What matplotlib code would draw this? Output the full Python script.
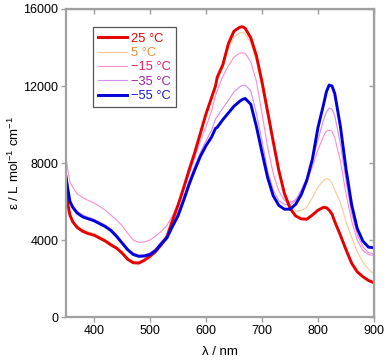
import matplotlib
matplotlib.use('Agg')
import matplotlib.pyplot as plt

plt.rcParams['font.family'] = ['Liberation Sans', 'DejaVu Sans']
plt.rcParams['mathtext.fontset'] = 'custom'
plt.rcParams['mathtext.rm'] = 'Liberation Sans'
plt.rcParams['mathtext.it'] = 'Liberation Sans:italic'

# wavelength (nm)
wl = [350, 353, 357, 362, 370, 380, 390, 400, 410, 420, 430, 440, 450, 460, 470,
      480, 490, 500, 510, 520, 530, 540, 550, 560, 570, 580, 590, 600, 610, 617,
      620, 630, 640, 650, 660, 665, 670, 680, 690, 700, 710, 720, 730, 740, 750,
      760, 770, 780, 790, 800, 810, 815, 820, 825, 830, 840, 850, 860, 870, 880,
      890, 900]

# molar absorptivity for each temperature
eps_25 = [6500, 5900, 5300, 4950, 4650, 4450, 4330, 4250, 4100, 3950, 3750, 3580, 3330, 3000, 2820,
          2800, 2950, 3150, 3400, 3750, 4150, 5000, 5800, 6700, 7650, 8550, 9550, 10550, 11400, 12000,
          12450, 13100, 14200, 14850, 15050, 15080, 15000, 14500, 13580, 12220, 10680, 9120, 7620, 6420, 5650,
          5250, 5100, 5080, 5300, 5550, 5700, 5680, 5550, 5350, 4950, 4250, 3500, 2800, 2350, 2100,
          1900, 1780]
eps_5 = [6580, 5980, 5380, 5030, 4730, 4530, 4410, 4330, 4180, 4030, 3830, 3660, 3410, 3080, 2900,
         2870, 3000, 3180, 3420, 3760, 4180, 4950, 5750, 6600, 7550, 8450, 9450, 10450, 11300, 11850,
         12300, 12950, 13950, 14550, 14750, 14770, 14700, 14250, 13300, 11950, 10450, 8950, 7550, 6500, 5850,
         5500, 5530, 5700, 6200, 6750, 7100, 7200, 7150, 6950, 6600, 5950, 4950, 4150, 3400, 2850,
         2500, 2230]
eps_m15 = [8300, 7700, 7000, 6750, 6400, 6200, 6050, 5920, 5750, 5550, 5300, 5050, 4750, 4350, 4000,
           3880, 3900, 4000, 4200, 4450, 4750, 5250, 5900, 6650, 7450, 8300, 9150, 9900, 10700, 11500,
           11750, 12500, 13050, 13500, 13700, 13730, 13700, 13250, 12250, 10580, 8850, 7460, 6550, 6050, 5950,
           6100, 6500, 7000, 7800, 8700, 9400, 9650, 9710, 9650, 9300, 8100, 6400, 5000, 4000, 3450,
           3250, 3180]
eps_m35 = [7400, 6800, 6100, 5800, 5500, 5300, 5180, 5080, 4930, 4780, 4580, 4280, 3920, 3570, 3320,
           3220, 3230, 3320, 3550, 3900, 4250, 4850, 5450, 6250, 7100, 7850, 8550, 9150, 9700, 10300,
           10400, 10850, 11250, 11700, 11950, 12030, 12050, 11750, 10580, 9150, 7600, 6600, 6050, 5850, 5820,
           6050, 6600, 7200, 8150, 9200, 10250, 10650, 10850, 10800, 10450, 9000, 7100, 5400, 4300, 3650,
           3350, 3270]
eps_m55 = [7300, 6700, 6000, 5700, 5400, 5200, 5100, 5000, 4850, 4700, 4500, 4200, 3850, 3500, 3250,
           3150, 3170, 3250, 3450, 3800, 4100, 4700, 5250, 6050, 6900, 7650, 8350, 8900, 9350, 9800,
           9850, 10250, 10600, 10950, 11200, 11300, 11350, 11050, 9900, 8550, 7250, 6300, 5800, 5600, 5600,
           5850, 6350, 7100, 8200, 9850, 11050, 11700, 12050, 12000, 11600, 9900, 7700, 5850, 4600, 3950,
           3630, 3600]

labels = ['25 °C', '5 °C', '\u221215 °C', '\u221235 °C', '\u221255 °C']
line_colors = ['#e60000', '#ffc890', '#ff8ccc', '#d38cf0', '#0000d8']
text_colors = ['#e60000', '#f28c3a', '#e8205a', '#a020a8', '#1818e0']

fig = plt.figure(figsize=(3.87, 3.6), dpi=100)
ax = fig.add_axes([0.1705, 0.1194, 0.7959, 0.8556])

# thin lines first, thick ones on top
h5, = ax.plot(wl, eps_5, color=line_colors[1], lw=0.8)
h15, = ax.plot(wl, eps_m15, color=line_colors[2], lw=0.8)
h35, = ax.plot(wl, eps_m35, color=line_colors[3], lw=0.8)
h25, = ax.plot(wl, eps_25, color=line_colors[0], lw=2.1)
h55, = ax.plot(wl, eps_m55, color=line_colors[4], lw=2.1)

ax.set_xlim(350, 900)
ax.set_ylim(0, 16000)
ax.set_xticks([400, 500, 600, 700, 800, 900])
ax.set_yticks([0, 4000, 8000, 12000, 16000])

spine_col = '#a0a0a0'
for s in ax.spines.values():
    s.set_color(spine_col)
    s.set_linewidth(1.6)
ax.tick_params(direction='out', length=3.5, width=1.0, color=spine_col,
               labelsize=9, pad=2)

# mirrored ticks pointing inward on top and right
top = ax.secondary_xaxis('top')
top.set_xticks([400, 500, 600, 700, 800, 900])
top.tick_params(direction='in', length=3.5, width=1.0, color=spine_col, labeltop=False)
right = ax.secondary_yaxis('right')
right.set_yticks([0, 4000, 8000, 12000, 16000])
right.tick_params(direction='in', length=3.5, width=1.0, color=spine_col, labelright=False)

ax.set_xlabel('\u03bb / nm', fontsize=9.5, labelpad=7)
ax.set_ylabel('\u03b5 / L mol$^{-1}$ cm$^{-1}$', fontsize=9.5, labelpad=1)

leg = ax.legend([h25, h5, h15, h35, h55], labels, loc='upper left',
                bbox_to_anchor=(0.088, 0.94), borderaxespad=0, fontsize=9.3,
                handlelength=2.2, handletextpad=0.35, labelspacing=0.18,
                borderpad=0.4, fancybox=False, framealpha=1)
leg.get_frame().set_edgecolor('#555555')
leg.get_frame().set_linewidth(0.9)
for t, c in zip(leg.get_texts(), text_colors):
    t.set_color(c)

plt.savefig('out.png', dpi=100)
